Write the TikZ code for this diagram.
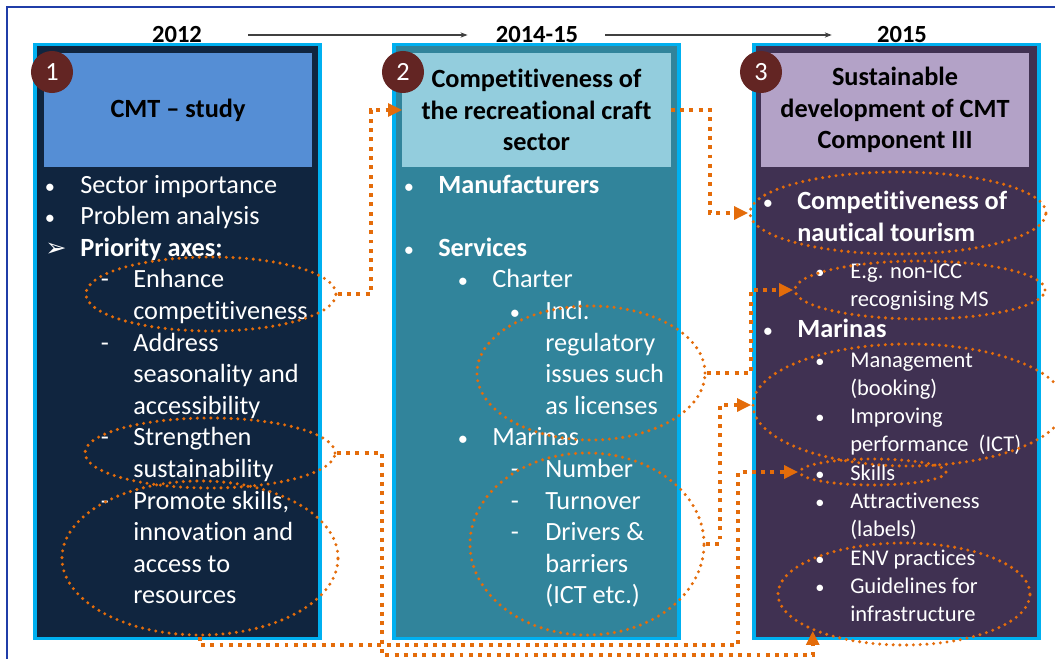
\documentclass[tikz,border=0pt]{standalone}
\usepackage{fontspec}
\setmainfont{Carlito}[Ligatures=NoCommon]
\newfontfamily\symfont{DejaVu Sans}
\usetikzlibrary{
  positioning,
  arrows.meta,
  shapes.geometric
}
\definecolor{cmtFrame}{HTML}{203DA8}
\definecolor{cmtCyan}{HTML}{00B0F0}
\definecolor{cmtNavy}{HTML}{10253F}
\definecolor{cmtNavyL}{HTML}{558ED5}
\definecolor{cmtTeal}{HTML}{31849B}
\definecolor{cmtTealL}{HTML}{93CDDD}
\definecolor{cmtPlum}{HTML}{403152}
\definecolor{cmtPlumL}{HTML}{B3A2C7}
\definecolor{cmtBadge}{HTML}{632523}
\definecolor{cmtOrange}{HTML}{E46C0A}

\begin{document}
\begin{tikzpicture}[
  x=0.025cm, y=-0.025cm,
  every node/.style={font=\fontsize{18.7}{22.5}\selectfont},
  panel/.style={
    rectangle, draw=cmtCyan, line width=2.2pt,
    minimum width=7.125cm, minimum height=14.825cm
  },
  head/.style={
    rectangle, align=center, text=black,
    font=\fontsize{18.7}{22.5}\selectfont\bfseries,
    minimum width=6.7cm, minimum height=2.85cm
  },
  badge/.style={
    circle, fill=cmtBadge, text=white, inner sep=0pt,
    minimum size=1.05cm
  },
  year/.style={font=\fontsize{17.5}{21}\selectfont\bfseries, inner sep=0pt},
  txt/.style={anchor=base west, text=white, inner sep=0pt},
  bul/.style={anchor=base, text=white, inner sep=0pt,
    font=\fontsize{14.5}{17}\selectfont},
  small/.style={font=\fontsize{16}{19}\selectfont},
  ring/.style={
    ellipse, draw=cmtOrange, line width=2.4pt,
    dash pattern=on 0pt off 4.8pt, line cap=round, inner sep=0pt
  },
  link/.style={
    draw=cmtOrange, line width=2.8pt, dash pattern=on 2.8pt off 3.8pt,
    -{Triangle[length=10pt, width=9pt]}
  },
  timeline/.style={-{Stealth[length=5pt]}, draw=black!75, line width=0.8pt}
]
 \useasboundingbox (0,0) rectangle (1055,659);
 \fill[white] (0,0) rectangle (1055,659);
 \draw[cmtFrame, line width=1.5pt] (7,7) rectangle (1075,685);

 % Years and timeline
 \node[year] (y1) at (177,35) {2012};
 \node[year] (y2) at (537,35) {2014-15};
 \node[year] (y3) at (902,35) {2015};
 \draw[timeline, shorten <=1.15cm, shorten >=0.7cm] (y1) -- (y2);
 \draw[timeline, shorten <=0.675cm, shorten >=1.125cm] (y2) -- (y3);

 % Three panels with their headings
 \node[panel, fill=cmtNavy] (p1) at (177.5,341.5) {};
 \node[panel, fill=cmtTeal] (p2) at (536.5,341.5) {};
 \node[panel, fill=cmtPlum] (p3) at (896.5,341.5) {};

 \node[head, fill=cmtNavyL] (h1) at (178,110) {\raisebox{-1.5pt}{CMT -- study}};
 \node[head, fill=cmtTealL] (h2) at (536.5,110)
  {Competitiveness of\\the recreational craft\\sector};
 \node[head, fill=cmtPlumL] (h3) at (895,110)
  {Sustainable\\development of CMT\\Component III};

 \node[badge] (n1) at (52,72) {1};
 \node[badge] (n2) at (403,72) {2};
 \node[badge] (n3) at (761,72) {3};

 % Panel 1 text
 \node[bul] (m11) at (50,193) {•};
 \node[txt] (t11) at (80,193) {Sector importance};
 \node[bul] (m12) at (50,224.6) {•};
 \node[txt] (t12) at (80,224.6) {Problem analysis};
 \node[bul, font=\symfont\fontsize{18}{20}\selectfont] (m13) at (56,256) {➢};
 \node[txt, font=\fontsize{18.7}{22.5}\selectfont\bfseries] (t13) at (80,256.2)
  {Priority axes:};
 \foreach \y/\t [count=\i] in {287.8/Enhance, 319.4/competitiveness,
   351/Address, 382.6/seasonality and, 414.2/accessibility,
   445.8/Strengthen, 477.4/sustainability, 509/{Promote skills,},
   540.6/innovation and, 572.2/access to, 603.8/resources}
  \node[txt] (a\i) at (133,\y) {\t};
 \foreach \y [count=\i] in {287.8,351,445.8,509}
  \node[bul, font=\fontsize{18.7}{22.5}\selectfont] (ad\i) at (105,\y) {-};

 % Panel 2 text
 \node[bul] (m21) at (409,193) {•};
 \node[txt, font=\fontsize{18.7}{22.5}\selectfont\bfseries] (t21) at (438,193)
  {Manufacturers};
 \node[bul] (m22) at (409,256.2) {•};
 \node[txt, font=\fontsize{18.7}{22.5}\selectfont\bfseries] (t22) at (438,256.2)
  {Services};
 \node[bul] (m23) at (463,287.8) {•};
 \node[txt] (t23) at (492,287.8) {Charter};
 \node[bul] (m24) at (515,319.4) {•};
 \node[bul] (m25) at (463,445.8) {•};
 \node[txt] (t25) at (492,445.8) {Marinas};
 \foreach \y/\t [count=\i] in {319.4/Incl., 351/regulatory,
   382.6/issues such, 414.2/as licenses, 477.4/Number, 509/Turnover,
   540.6/Drivers \&, 572.2/barriers, 603.8/(ICT etc.)}
  \node[txt] (b\i) at (545,\y) {\t};
 \foreach \y [count=\i] in {477.4,509,540.6}
  \node[bul, font=\fontsize{18.7}{22.5}\selectfont] (bd\i) at (515,\y) {-};

 % Panel 3 text
 \node[bul] (m31) at (768,209) {•};
 \node[txt, font=\fontsize{18.7}{22.5}\selectfont\bfseries] (t31) at (797,209)
  {Competitiveness of};
 \node[txt, font=\fontsize{18.7}{22.5}\selectfont\bfseries] (t32) at (797,241)
  {nautical tourism};
 \node[bul] (m33) at (768,337) {•};
 \node[txt, font=\fontsize{18.7}{22.5}\selectfont\bfseries] (t33) at (797,337)
  {Marinas};
 \foreach \y/\t [count=\i] in {278/E.g. non-ICC, 306/recognising MS,
   367/Management, 395.3/(booking), 423.6/Improving,
   451.9/performance~ (ICT), 480.2/Skills, 508.5/Attractiveness,
   536.8/(labels), 565.1/ENV practices, 593.4/Guidelines for,
   621.7/infrastructure}
  \node[txt, small] (c\i) at (850,\y) {\t};
 \foreach \y [count=\i] in {278,367,423.6,480.2,508.5,565.1,593.4}
  \node[bul, font=\fontsize{13}{15}\selectfont] (cd\i) at (820,\y) {•};

 % Dotted highlights
 \node[ring, minimum width=6.25cm, minimum height=1.85cm] (e1) at (211,294) {};
 \node[ring, minimum width=6.25cm, minimum height=1.75cm] (e2) at (210,453) {};
 \node[ring, minimum width=6.9cm, minimum height=3.85cm] (e3) at (200,558) {};
 \node[ring, minimum width=5.7cm, minimum height=3.35cm] (e4) at (591,373) {};
 \node[ring, minimum width=5.85cm, minimum height=4.55cm] (e5) at (587,544) {};
 \node[ring, minimum width=7.4cm, minimum height=2.05cm] (e6) at (898,213) {};
 \node[ring, minimum width=6.25cm, minimum height=1.45cm] (e7) at (920,290) {};
 \node[ring, minimum width=7.8cm, minimum height=3.05cm] (e8) at (909,405) {};
 \node[ring, minimum width=3.65cm, minimum height=0.65cm] (e9) at (873,472) {};
 \node[ring, minimum width=6.3cm, minimum height=2.55cm] (e10) at (904,594) {};

 % Links between the stages
 \draw[link] (e1.east) -- ++(33,0) |- (h2.west);
 \draw[link] (h2.east) -- ++(39,0) |- (e6.west);
 \draw[link] (e4.east) -- ++(44,0) |- (e7.west);
 \draw[link] (e5.east) -- ++(14,0) |- (e8.west);
 \draw[link] (e2.east) -| (382,655) -| (e10.202);
 \draw[link] (e3.south) |- (738,645) |- (e9.west);
\end{tikzpicture}
\end{document}
